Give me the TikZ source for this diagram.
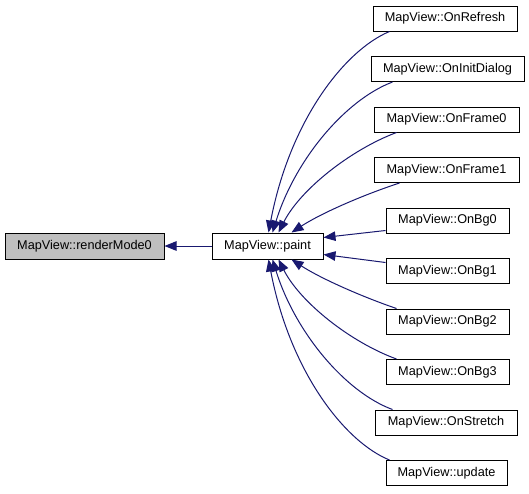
\documentclass[tikz,border=0pt]{standalone}
\usepackage{fontspec}
\setmainfont{Liberation Sans}
\usetikzlibrary{arrows.meta,calc}
\definecolor{edgeblue}{HTML}{191970}
\definecolor{boxgray}{HTML}{BFBFBF}
\tikzset{
  fn/.style={draw=black, line width=1pt, fill=white, inner sep=0pt, minimum height=25pt,
    font=\fontsize{12.7}{14}\selectfont, anchor=center},
  edge/.style={draw=edgeblue, line width=1pt, -{Triangle[length=12pt,width=9.5pt]}, fill=none}
}
\begin{document}
\begin{tikzpicture}[x=1pt,y=-1pt]
\useasboundingbox (0,0) rectangle (529,493);
\fill[white] (0,0) rectangle (529,493);
\node[fn, fill=boxgray, minimum width=159pt, minimum height=26pt] (rm) at (84.5,246) {MapView::renderMode0};
\node[fn, minimum width=111pt, minimum height=26pt] (paint) at (267.5,246) {MapView::paint};
\node[fn, minimum width=144pt] (r1) at (445,18.5) {MapView::OnRefresh};
\node[fn, minimum width=153pt] (r2) at (447.5,69) {MapView::OnInitDialog};
\node[fn, minimum width=145pt] (r3) at (446.5,119.5) {MapView::OnFrame0};
\node[fn, minimum width=145pt] (r4) at (446.5,170) {MapView::OnFrame1};
\node[fn, minimum width=123pt] (r5) at (447.5,220.5) {MapView::OnBg0};
\node[fn, minimum width=123pt] (r6) at (447.5,271) {MapView::OnBg1};
\node[fn, minimum width=123pt] (r7) at (447.5,321.5) {MapView::OnBg2};
\node[fn, minimum width=123pt] (r8) at (447.5,372) {MapView::OnBg3};
\node[fn, minimum width=142pt] (r9) at (446,422.5) {MapView::OnStretch};
\node[fn, minimum width=121pt] (r10) at (446.5,473) {MapView::update};

\draw[edge] (paint.west) -- (rm.east);

\draw[edge] ($(r1.south west)+(17,0)$) .. controls (345,50) and (290,120) .. ($(paint.north west)+(57,0)$);
\draw[edge] ($(r2.south west)+(22,0)$) .. controls (345,100) and (295,160) .. ($(paint.north west)+(61,0)$);
\draw[edge] ($(r3.south west)+(23,0)$) .. controls (350,150) and (300,190) .. ($(paint.north west)+(67,0)$);
\draw[edge] ($(r4.south west)+(26,0)$) .. controls (360,196) and (320,214) .. ($(paint.north west)+(80,0)$);
\draw[edge] ($(r5.south west)+(0,-3)$) -- ($(paint.north east)+(0,5)$);
\draw[edge] ($(r6.north west)+(0,4.5)$) -- ($(paint.south east)+(0,-5)$);
\draw[edge] ($(r7.north west)+(11,0)$) .. controls (360,296) and (320,278) .. ($(paint.south west)+(80,0)$);
\draw[edge] ($(r8.north west)+(11,0)$) .. controls (350,342) and (300,302) .. ($(paint.south west)+(67,0)$);
\draw[edge] ($(r9.north west)+(18,0)$) .. controls (345,392) and (295,332) .. ($(paint.south west)+(61,0)$);
\draw[edge] ($(r10.north west)+(4,0)$) .. controls (345,442) and (290,372) .. ($(paint.south west)+(57,0)$);
\end{tikzpicture}
\end{document}
